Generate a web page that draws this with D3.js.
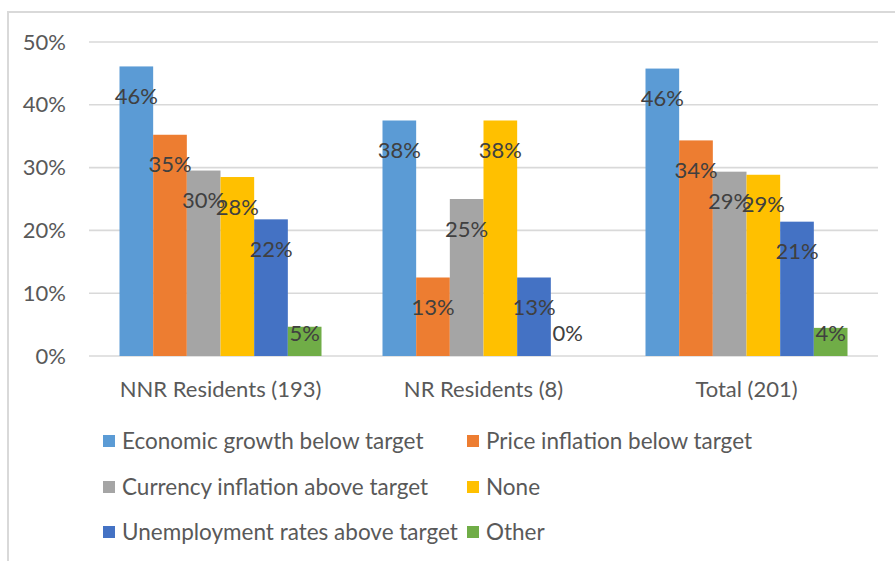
<!DOCTYPE html>
<html>
<head>
<meta charset="utf-8">
<script src="https://cdn.jsdelivr.net/npm/d3@7"></script>
<style>
  html, body { margin: 0; padding: 0; background: #fff; }
  svg { display: block; }
  text { font-family: Lato, "Open Sans", sans-serif; }
</style>
</head>
<body>
<svg id="chart" width="895" height="561"></svg>
<script>
const categories = ["NNR Residents (193)", "NR Residents (8)", "Total (201)"];
const seriesNames = [
  "Economic growth below target",
  "Price inflation below target",
  "Currency inflation above target",
  "None",
  "Unemployment rates above target",
  "Other"
];
const seriesColors = ["#5B9BD5", "#ED7D31", "#A5A5A5", "#FFC000", "#4472C4", "#70AD47"];
const econGrowth   = [0.4611, 0.375, 0.4577];
const priceInfl    = [0.3523, 0.125, 0.3433];
const currencyInfl = [0.2953, 0.25,  0.2935];
const noneVals     = [0.2850, 0.375, 0.2886];
const unemployment = [0.2176, 0.125, 0.2139];
const otherVals    = [0.0466, 0.0,   0.0448];
const yTicks = [0, 0.1, 0.2, 0.3, 0.4, 0.5];

const seriesValues = [econGrowth, priceInfl, currencyInfl, noneVals, unemployment, otherVals];

const svg = d3.select("#chart");

// outer frame
svg.append("rect")
  .attr("x", 8).attr("y", 12).attr("width", 900).attr("height", 560)
  .attr("fill", "none").attr("stroke", "#d9d9d9").attr("stroke-width", 2);

const x0 = d3.scaleBand().domain(categories).range([89, 878])
  .paddingInner(0.2319).paddingOuter(0.11595);
const x1 = d3.scaleBand().domain(d3.range(seriesNames.length)).range([0, x0.bandwidth()]);
const y = d3.scaleLinear().domain([0, 0.5]).range([356, 42]);

// gridlines
svg.append("g").selectAll("line").data(yTicks).join("line")
  .attr("x1", 89).attr("x2", 878)
  .attr("y1", d => y(d)).attr("y2", d => y(d))
  .attr("stroke", "#d9d9d9").attr("stroke-width", 1.6);

// y axis labels
const yAxis = d3.axisLeft(y).tickValues(yTicks).tickFormat(d3.format(".0%")).tickSize(0).tickPadding(0);
const yg = svg.append("g").attr("transform", "translate(66,0)").call(yAxis);
yg.select(".domain").remove();
yg.selectAll("text").attr("font-size", 22).attr("fill", "#595959")
  .attr("font-family", "Lato, sans-serif");

// x axis labels
const xAxis = d3.axisBottom(x0).tickSize(0).tickPadding(0);
const xg = svg.append("g").attr("transform", "translate(0,379)").call(xAxis);
xg.select(".domain").remove();
xg.selectAll("text").attr("font-size", 22).attr("fill", "#595959")
  .attr("font-family", "Lato, sans-serif").attr("dy", "0.8em");

// bars
const rows = [];
categories.forEach((c, ci) => {
  seriesValues.forEach((vals, si) => rows.push({ c, si, v: vals[ci] }));
});

svg.append("g").selectAll("rect").data(rows).join("rect")
  .attr("x", d => x0(d.c) + x1(d.si))
  .attr("y", d => y(d.v))
  .attr("width", x1.bandwidth())
  .attr("height", d => y(0) - y(d.v))
  .attr("fill", d => seriesColors[d.si]);

// data labels
svg.append("g").selectAll("text").data(rows).join("text")
  .attr("x", d => x0(d.c) + x1(d.si) + x1.bandwidth() / 2)
  .attr("y", d => Math.min(y(d.v) + 30, y(0) - 23))
  .attr("dy", "0.35em")
  .attr("text-anchor", "middle")
  .attr("font-size", 22)
  .attr("fill", "#404040")
  .text(d => d3.format(".0%")(d.v));

// legend
const legendPos = [
  [103, 441], [467, 441],
  [103, 487], [467, 487],
  [103, 532], [467, 532]
];
const lg = svg.append("g").selectAll("g").data(seriesNames).join("g")
  .attr("transform", (d, i) => `translate(${legendPos[i][0]},${legendPos[i][1]})`);
lg.append("rect").attr("x", 0).attr("y", -6).attr("width", 12).attr("height", 12)
  .attr("fill", (d, i) => seriesColors[i]);
lg.append("text").attr("x", 19).attr("dy", "0.35em")
  .attr("font-size", 22.5).attr("fill", "#595959").text(d => d);
</script>
</body>
</html>
